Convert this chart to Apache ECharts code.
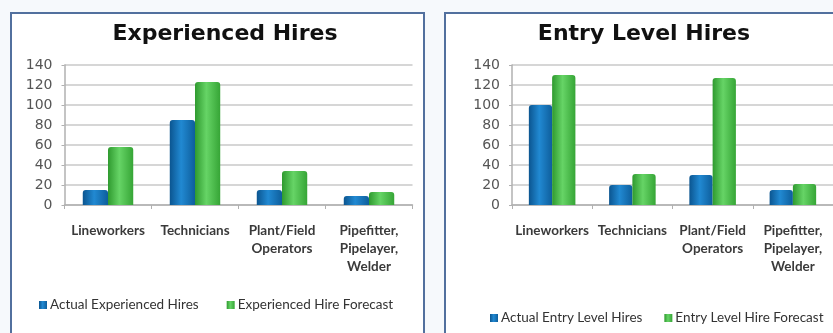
<!DOCTYPE html>
<html>
<head>
<meta charset="utf-8">
<script src="https://cdn.jsdelivr.net/npm/echarts@6/dist/echarts.min.js"></script>
<style>
html,body{margin:0;padding:0;background:#f6f9fc;}
#c{width:833px;height:333px;}
</style>
</head>
<body>
<div id="c"></div>
<script>
var categories = ['Lineworkers', 'Technicians', 'Plant/Field\nOperators', 'Pipefitter,\nPipelayer,\nWelder'];
var yTicks = [0, 20, 40, 60, 80, 100, 120, 140];
var actualExperienced = [15, 85, 15, 9];
var forecastExperienced = [58, 123, 34, 13];
var actualEntry = [100, 20, 30, 15];
var forecastEntry = [130, 31, 127, 21];
var titles = ['Experienced Hires', 'Entry Level Hires'];
var seriesNames = ['Actual Experienced Hires', 'Experienced Hire Forecast', 'Actual Entry Level Hires', 'Entry Level Hire Forecast'];

function grad(a, b, c) {
  return new echarts.graphic.LinearGradient(0, 0, 1, 0, [
    {offset: 0, color: a}, {offset: 0.45, color: b}, {offset: 1, color: c}
  ]);
}
var blue = grad('#0b5590', '#2189d2', '#0e5e9c');
var green = grad('#2f9a2f', '#66d466', '#36a536');

var chart = echarts.init(document.getElementById('c'), null, {renderer: 'canvas'});

function xAxis(gi) {
  return {
    type: 'category', gridIndex: gi, data: categories,
    axisLine: {show: true, lineStyle: {color: '#b0b0b0', width: 1.5}},
    axisTick: {show: true, length: 4, lineStyle: {color: '#b0b0b0'}},
    axisLabel: {interval: 0, margin: 17, lineHeight: 18, color: '#3a3a3a', fontFamily: 'Lato', fontWeight: 'bold', fontSize: 13.5}
  };
}
function yAxis(gi) {
  return {
    type: 'value', gridIndex: gi, min: yTicks[0], max: yTicks[yTicks.length - 1], interval: 20,
    axisLine: {show: true, lineStyle: {color: '#b0b0b0', width: 1.5}},
    axisTick: {show: true, length: 3, lineStyle: {color: '#b0b0b0'}},
    splitLine: {show: true, lineStyle: {color: '#c8c8c8', width: 1.5}},
    axisLabel: {margin: 12, color: '#555', fontFamily: 'DejaVu Sans', fontSize: 14}
  };
}
function bar(name, data, gi, color) {
  return {
    name: name, type: 'bar', xAxisIndex: gi, yAxisIndex: gi, data: data,
    barGap: '0%', barCategoryGap: '42%',
    itemStyle: {color: color, borderRadius: [3, 3, 0, 0]},
    emphasis: {disabled: true}
  };
}

chart.setOption({
  animation: false,
  backgroundColor: '#f6f9fc',
  graphic: [
    {type: 'rect', z: -10, shape: {x: 11, y: 13, width: 413, height: 340}, style: {fill: '#ffffff', stroke: '#52709e', lineWidth: 2}},
    {type: 'rect', z: -10, shape: {x: 445, y: 13, width: 420, height: 340}, style: {fill: '#ffffff', stroke: '#52709e', lineWidth: 2}}
  ],
  title: [
    {text: titles[0], left: 220, top: 18, textAlign: 'center', textStyle: {fontFamily: 'DejaVu Sans', fontWeight: 'bold', fontSize: 22, color: '#111'}},
    {text: titles[1], left: 639, top: 18, textAlign: 'center', textStyle: {fontFamily: 'DejaVu Sans', fontWeight: 'bold', fontSize: 22, color: '#111'}}
  ],
  legend: [
    {data: [seriesNames[0], seriesNames[1]], left: 34, top: 293, itemWidth: 8, itemHeight: 8, itemGap: 28, icon: 'rect',
     textStyle: {fontFamily: 'Lato', fontSize: 13.5, color: '#333', padding: [0, 0, 0, -2]}},
    {data: [seriesNames[2], seriesNames[3]], left: 485, top: 306, itemWidth: 8, itemHeight: 8, itemGap: 22, icon: 'rect',
     textStyle: {fontFamily: 'Lato', fontSize: 13.5, color: '#333', padding: [0, 0, 0, -2]}}
  ],
  grid: [
    {left: 64.5, top: 65, width: 348, height: 140},
    {left: 512, top: 65, width: 328, height: 140}
  ],
  xAxis: [xAxis(0), xAxis(1)],
  yAxis: [yAxis(0), yAxis(1)],
  series: [
    bar(seriesNames[0], actualExperienced, 0, blue),
    bar(seriesNames[1], forecastExperienced, 0, green),
    bar(seriesNames[2], actualEntry, 1, blue),
    bar(seriesNames[3], forecastEntry, 1, green)
  ]
});
</script>
</body>
</html>
